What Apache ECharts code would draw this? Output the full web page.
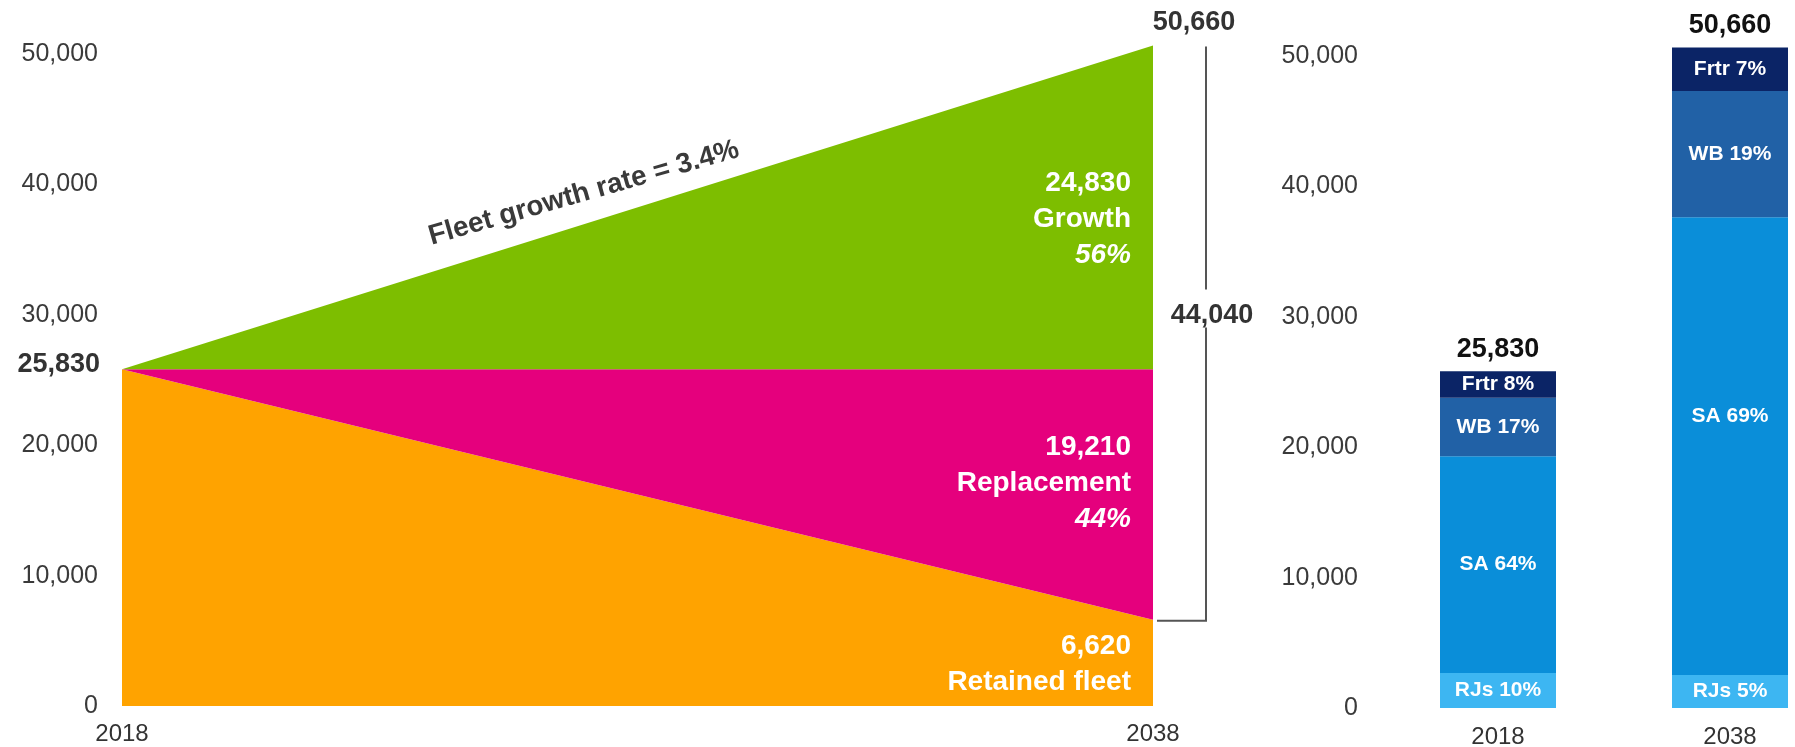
<!DOCTYPE html>
<html>
<head>
<meta charset="utf-8">
<title>Fleet 2018–2038</title>
<script src="https://cdn.jsdelivr.net/npm/echarts@6/dist/echarts.min.js"></script>
<style>
  html, body { margin: 0; padding: 0; background: #ffffff; }
  #chart { width: 1795px; height: 747px; }
</style>
</head>
<body>
<div id="chart"></div>
<script>
// ---- Fleet development (left panel) ----
const years = ['2018', '2038'];
const retainedFleet = [25830, 6620];
const replacement = [0, 19210];
const growth = [0, 24830];

// ---- Fleet mix by aircraft type (right panel) ----
const mixYears = ['2018', '2038'];
const regionalJets = [2690, 2530];
const singleAisle = [16610, 35100];
const widebody = [4500, 9700];
const freighter = [2030, 3330];

// ---- Axis ticks ----
const yTicks = [0, 10000, 20000, 30000, 40000, 50000];

const growthRateText = 'Fleet growth rate = 3.4%';

const FONT = '"Liberation Sans", Arial, Helvetica, sans-serif';
const fmt = v => v.toLocaleString('en-US');

const mixTotals = mixYears.map((_, i) =>
  regionalJets[i] + singleAisle[i] + widebody[i] + freighter[i]);

const COLORS = {
  growth: '#7dbe00',
  replacement: '#e5007d',
  retained: '#ffa300',
  rjs: '#3db6f2',
  sa: '#0a8ed9',
  wb: '#2161a6',
  frtr: '#0b2466'
};

const chart = echarts.init(document.getElementById('chart'), null, { renderer: 'canvas' });

function areaSeries(name, data, color) {
  return {
    name, type: 'line', stack: 'fleet', data,
    xAxisIndex: 0, yAxisIndex: 0,
    symbol: 'none', smooth: false,
    lineStyle: { width: 0 },
    areaStyle: { color, opacity: 1 },
    silent: true
  };
}

function barSeries(name, short, data, color) {
  return {
    name, type: 'bar', stack: 'mix', data,
    xAxisIndex: 1, yAxisIndex: 1,
    barWidth: 116,
    itemStyle: { color },
    label: {
      show: true, position: 'inside', color: '#ffffff',
      fontFamily: FONT, fontWeight: 'bold', fontSize: 21,
      formatter: p => short + ' ' + Math.round(p.value / mixTotals[p.dataIndex] * 100) + '%'
    },
    silent: true
  };
}

const yLabel = {
  fontFamily: FONT, fontSize: 25, color: '#3a3a3a', margin: 24,
  formatter: v => (yTicks.indexOf(v) >= 0 ? fmt(v) : '')
};
const xLabel = { fontFamily: FONT, fontSize: 24, color: '#333333' };

const option = {
  animation: false,
  backgroundColor: '#ffffff',
  grid: [
    { left: 122, right: 642, top: 28, bottom: 41, outerBoundsMode: 'none', containLabel: false },
    { left: 1382, right: -51, top: 30, bottom: 39, outerBoundsMode: 'none', containLabel: false }
  ],
  xAxis: [
    { gridIndex: 0, type: 'category', data: years, boundaryGap: false,
      axisLine: { show: false }, axisTick: { show: false },
      axisLabel: Object.assign({ margin: 16 }, xLabel) },
    { gridIndex: 1, type: 'category', data: mixYears,
      axisLine: { show: false }, axisTick: { show: false },
      axisLabel: Object.assign({ margin: 17 }, xLabel) }
  ],
  yAxis: [
    { gridIndex: 0, type: 'value', min: 0, max: 52000, interval: 10000,
      axisLine: { show: false }, axisTick: { show: false }, splitLine: { show: false },
      axisLabel: yLabel },
    { gridIndex: 1, type: 'value', min: 0, max: 52000, interval: 10000,
      axisLine: { show: false }, axisTick: { show: false }, splitLine: { show: false },
      axisLabel: yLabel }
  ],
  series: [
    areaSeries('Retained fleet', retainedFleet, COLORS.retained),
    areaSeries('Replacement', replacement, COLORS.replacement),
    areaSeries('Growth', growth, COLORS.growth),
    barSeries('RJs', 'RJs', regionalJets, COLORS.rjs),
    barSeries('SA', 'SA', singleAisle.map((v, i) => i === 1 ? { value: v, label: { offset: [0, -30] } } : v), COLORS.sa),
    barSeries('WB', 'WB', widebody, COLORS.wb),
    barSeries('Frtr', 'Frtr', freighter, COLORS.frtr)
  ]
};

chart.setOption(option);

// ---- Annotations placed through the chart's own scales ----
const px = (g, idx, v) => chart.convertToPixel({ gridIndex: g }, [idx, v]);

function text(x, y, str, extra) {
  return {
    type: 'text', x, y, z: 100, silent: true,
    style: Object.assign({
      text: str, fontFamily: FONT, fontSize: 27, fontWeight: 'bold',
      fill: '#333333', align: 'center', verticalAlign: 'middle'
    }, extra || {})
  };
}
function line(points) {
  return {
    type: 'polyline', z: 100, silent: true,
    shape: { points },
    style: { stroke: '#555555', lineWidth: 2, fill: null }
  };
}

const startTotal = retainedFleet[0] + replacement[0] + growth[0];
const endTotal = retainedFleet[1] + replacement[1] + growth[1];
const deliveries = replacement[1] + growth[1];

const s = px(0, 0, startTotal);
const e = px(0, 1, endTotal);
const r = px(0, 1, retainedFleet[1]);

const graphics = [];

// Totals at both ends of the fleet area
graphics.push(text(s[0] - 22, s[1] - 5, fmt(startTotal), { align: 'right' }));
graphics.push(text(e[0] + 41, e[1] - 23, fmt(endTotal)));

// Bracket spanning the new deliveries
const bx = e[0] + 53;
const bTop = e[1] + 1;
const bBottom = r[1] + 1;
const midY = (bTop + bBottom) / 2 - 18;
graphics.push(line([[bx, bTop], [bx, midY - 26]]));
graphics.push(line([[bx, midY + 12], [bx, bBottom], [e[0] + 4, bBottom]]));
graphics.push(text(bx + 6, midY, fmt(deliveries)));

// Labels inside the stacked areas (2038 end)
const lx = e[0] - 22;
const white = { fill: '#ffffff', align: 'right', fontSize: 28 };
const pct = v => Math.round(v / deliveries * 100) + '%';

const gMid = px(0, 1, retainedFleet[1] + replacement[1] + growth[1] / 2)[1] + 12;
graphics.push(text(lx, gMid - 36, fmt(growth[1]), white));
graphics.push(text(lx, gMid, 'Growth', white));
graphics.push(text(lx, gMid + 36, pct(growth[1]), Object.assign({ fontStyle: 'italic' }, white)));

const rMid = px(0, 1, retainedFleet[1] + replacement[1] / 2)[1] - 11;
graphics.push(text(lx, rMid - 36, fmt(replacement[1]), white));
graphics.push(text(lx, rMid, 'Replacement', white));
graphics.push(text(lx, rMid + 36, pct(replacement[1]), Object.assign({ fontStyle: 'italic' }, white)));

const fMid = px(0, 1, retainedFleet[1] / 2)[1] + 1;
graphics.push(text(lx, fMid - 18, fmt(retainedFleet[1]), white));
graphics.push(text(lx, fMid + 18, 'Retained fleet', white));

// Growth-rate caption running along the top edge of the growth area
const t = 0.448;
const cx = s[0] + t * (e[0] - s[0]);
const edgeY = s[1] + t * (e[1] - s[1]);
const angle = Math.atan2(s[1] - e[1], e[0] - s[0]) - 1.5 * Math.PI / 180;
const cap = text(cx, edgeY - 31, growthRateText, { fontSize: 28, fill: '#3a3a3a' });
cap.rotation = angle;
graphics.push(cap);

// Totals above the fleet-mix bars
mixYears.forEach((_, i) => {
  const p = px(1, i, mixTotals[i]);
  graphics.push(text(p[0], p[1] - 22, fmt(mixTotals[i]), { fill: '#111111' }));
});

chart.setOption({ graphic: graphics });
</script>
</body>
</html>
